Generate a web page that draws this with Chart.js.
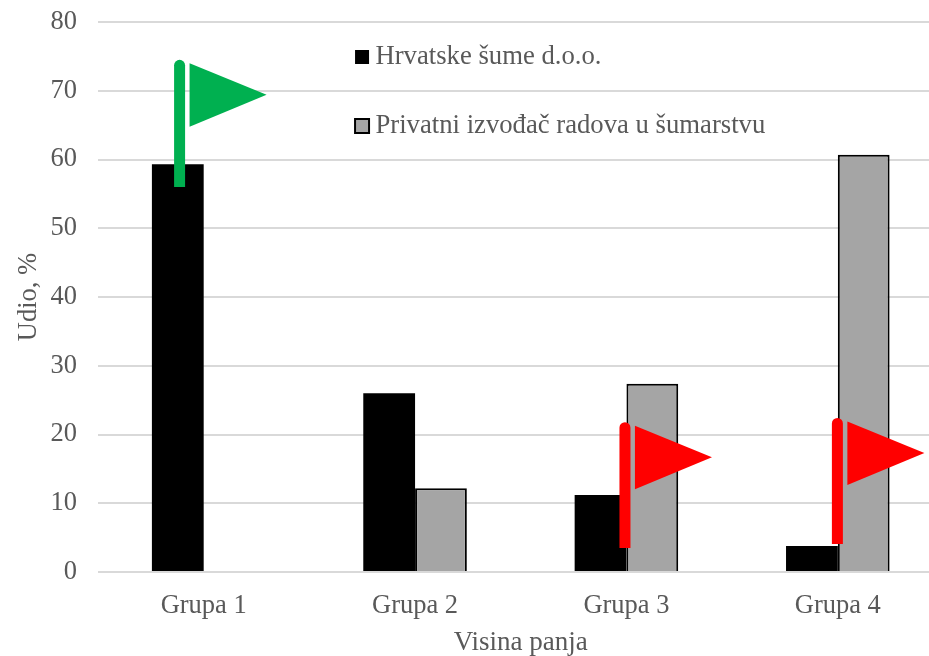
<!DOCTYPE html>
<html>
<head>
<meta charset="utf-8">
<script src="https://cdn.jsdelivr.net/npm/chart.js@4"></script>
<style>
  html, body { margin: 0; padding: 0; background: #fff; overflow: hidden; }
  canvas { display: block; }
</style>
</head>
<body>
<canvas id="chart" width="950" height="656"></canvas>
<script>
// categories and series
const categories = ["Grupa 1", "Grupa 2", "Grupa 3", "Grupa 4"];
const hrvatskeSume = [59.3, 26, 11.2, 3.8];
const privatniIzvodjac = [null, 12.2, 27.4, 60.7];
const seriesNames = ["Hrvatske šume d.o.o.", "Privatni izvođač radova u šumarstvu"];

// flags, in axis units (x is a fractional category index)
const flagX = [-0.114, 1.993, 2.998];
const flagBottom = [56, 3.5, 4.07];
const flagTop = [74.5, 21.8, 22.4];
const flagColors = ["#00B050", "#FF0000", "#FF0000"];

const textColor = "#595959";
const serif = "'Liberation Serif', 'Times New Roman', serif";

// draws the pennants on top of the bars
const flagsPlugin = {
  id: "flags",
  afterDraw(chart) {
    const ctx = chart.ctx;
    const xs = chart.scales.x, ys = chart.scales.y;
    for (let i = 0; i < flagX.length; i++) {
      const x = xs.getPixelForValue(flagX[i]);
      const top = ys.getPixelForValue(flagTop[i]);
      const bottom = ys.getPixelForValue(flagBottom[i]);
      ctx.save();
      ctx.fillStyle = flagColors[i];
      // pole with a rounded top
      ctx.beginPath();
      ctx.arc(x, top + 5.5, 5.5, Math.PI, 0);
      ctx.lineTo(x + 5.5, bottom);
      ctx.lineTo(x - 5.5, bottom);
      ctx.closePath();
      ctx.fill();
      // pennant
      ctx.beginPath();
      ctx.moveTo(x + 10, top + 3.5);
      ctx.lineTo(x + 87, top + 35);
      ctx.lineTo(x + 10, top + 67);
      ctx.closePath();
      ctx.fill();
      ctx.restore();
    }
  }
};

// moves the legend into the free space at the top of the plot
const legendPlacePlugin = {
  id: "legendPlace",
  afterLayout(chart) {
    chart.legend.left = 319.7;
    chart.legend.top = 1.3;
  }
};

new Chart(document.getElementById("chart"), {
  type: "bar",
  data: {
    labels: categories,
    datasets: [
      {
        label: seriesNames[0],
        data: hrvatskeSume,
        backgroundColor: "#000000",
        borderWidth: 0
      },
      {
        label: seriesNames[1],
        data: privatniIzvodjac,
        backgroundColor: "#A5A5A5",
        borderColor: "#000000",
        borderWidth: 2
      }
    ]
  },
  options: {
    responsive: false,
    animation: false,
    layout: { padding: { left: 13, top: 22, right: 6.5, bottom: -3 } },
    datasets: { bar: { categoryPercentage: 0.49, barPercentage: 1 } },
    plugins: {
      tooltip: { enabled: false },
      legend: {
        position: "chartArea",
        align: "start",
        labels: {
          usePointStyle: true,
          pointStyle: "rect",
          boxWidth: 0.1,
          boxHeight: 14,
          padding: 42.3,
          color: textColor,
          font: { family: serif, size: 26.7 }
        }
      }
    },
    scales: {
      x: {
        grid: { display: false },
        border: { display: false },
        // pin the plot bottom where the reference has it
        afterFit(s) { s.height = 87; s.paddingLeft = 0; s.paddingRight = 0; },
        ticks: { color: textColor, padding: 10, font: { family: serif, size: 26.5 } },
        title: {
          display: true,
          text: "Visina panja",
          color: textColor,
          padding: 0,
          font: { family: serif, size: 27 }
        }
      },
      y: {
        min: 0,
        max: 80,
        grid: { color: "#D9D9D9", lineWidth: 2, drawTicks: false },
        border: { display: false },
        // pin the plot left and top edges
        afterFit(s) { s.width = 85; s.paddingTop = 0; s.paddingBottom = 0; },
        ticks: { stepSize: 10, color: textColor, padding: 21, font: { family: serif, size: 26.5 } },
        title: {
          display: true,
          text: "Udio, %",
          color: textColor,
          padding: 0,
          font: { family: serif, size: 26.5 }
        }
      }
    }
  },
  plugins: [legendPlacePlugin, flagsPlugin]
});
</script>
</body>
</html>
